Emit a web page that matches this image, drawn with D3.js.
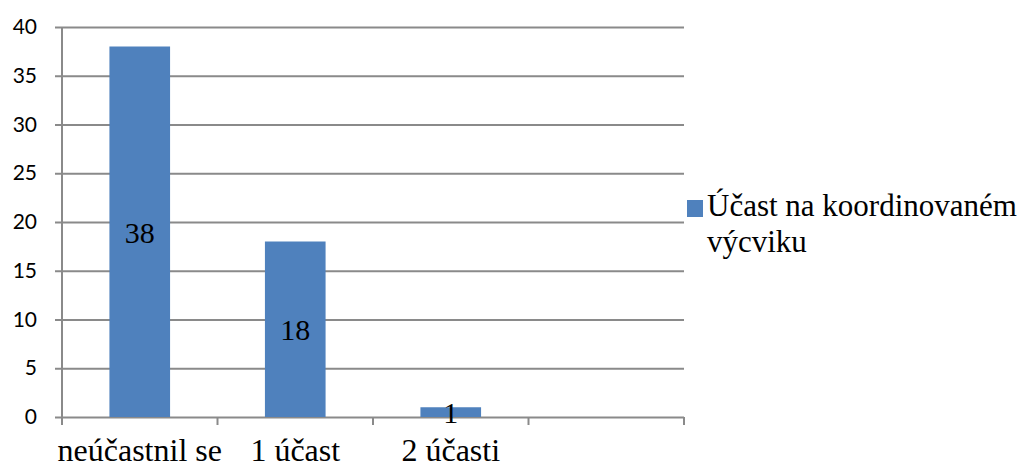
<!DOCTYPE html>
<html>
<head>
<meta charset="utf-8">
<script src="https://cdn.jsdelivr.net/npm/d3@7/dist/d3.min.js"></script>
<style>
  html, body { margin: 0; padding: 0; background: #fff; }
  svg { display: block; }
  .serif { font-family: "Liberation Serif", "Times New Roman", Times, "DejaVu Serif", serif; }
  .sans { font-family: Lato, "Open Sans", "Liberation Sans", sans-serif; }
</style>
</head>
<body>
<svg id="chart" width="1030" height="468"></svg>
<script>
// Category slots on the x axis (the last slot is left empty)
const categories = ["neúčastnil se", "1 účast", "2 účasti", ""];
// Number of respondents per category
const values = [38, 18, 1];
// Y axis tick values
const yTicks = [0, 5, 10, 15, 20, 25, 30, 35, 40];
const seriesName = ["Účast na koordinovaném", "výcviku"];

const svg = d3.select("#chart");
const plotLeft = 62, plotRight = 684, plotTop = 27, plotBottom = 417;
const barColor = "#4F81BD";
const gridColor = "#8a8a8a";

const x = d3.scaleBand()
  .domain(categories.map((c, i) => i))
  .range([plotLeft, plotRight])
  .paddingInner(0.61)
  .paddingOuter(0.305);

const y = d3.scaleLinear().domain([0, 40]).range([plotBottom, plotTop]);

// Horizontal gridlines with short ticks to the left of the axis
const yAxis = d3.axisLeft(y)
  .tickValues(yTicks)
  .tickSize(-(plotRight - plotLeft))
  .tickSizeOuter(0)
  .tickPadding(25)
  .tickFormat(d3.format("d"));

const gy = svg.append("g")
  .attr("transform", `translate(${plotLeft},0)`)
  .call(yAxis)
  .attr("font-family", null)
  .attr("font-size", null);
gy.select(".domain").remove();
gy.selectAll(".tick line")
  .attr("x1", -7)
  .attr("stroke", gridColor)
  .attr("stroke-width", 2);
gy.selectAll(".tick text")
  .attr("class", "sans")
  .style("font-size", "21px")
  .attr("fill", "#000");

// Vertical axis line
svg.append("line")
  .attr("x1", plotLeft).attr("x2", plotLeft)
  .attr("y1", y(40)).attr("y2", plotBottom + 8)
  .attr("stroke", gridColor).attr("stroke-width", 2);

// Category boundary ticks on the x axis
const step = x.step();
const boundaries = d3.range(categories.length + 1).map(i => plotLeft + i * step);
svg.append("g").selectAll("line")
  .data(boundaries)
  .join("line")
  .attr("x1", d => d).attr("x2", d => d)
  .attr("y1", plotBottom).attr("y2", plotBottom + 8)
  .attr("stroke", gridColor).attr("stroke-width", 2);

// Bars
svg.append("g").selectAll("rect")
  .data(values)
  .join("rect")
  .attr("x", (d, i) => x(i))
  .attr("width", x.bandwidth())
  .attr("y", d => y(d))
  .attr("height", d => plotBottom - y(d))
  .attr("fill", barColor);

// Value labels centred inside each bar
svg.append("g").selectAll("text")
  .data(values)
  .join("text")
  .attr("class", "serif")
  .attr("x", (d, i) => x(i) + x.bandwidth() / 2)
  .attr("y", d => (y(d) + plotBottom) / 2 + 11)
  .attr("text-anchor", "middle")
  .style("font-size", "30px")
  .attr("fill", "#000")
  .text(d => d);

// Category labels
svg.append("g").selectAll("text")
  .data(categories)
  .join("text")
  .attr("class", "serif")
  .attr("x", (d, i) => x(i) + x.bandwidth() / 2)
  .attr("y", 461)
  .attr("text-anchor", "middle")
  .style("font-size", "32px")
  .attr("fill", "#000")
  .text(d => d);

// Legend
const legend = svg.append("g");
legend.append("rect")
  .attr("x", 687).attr("y", 200)
  .attr("width", 16).attr("height", 17)
  .attr("fill", barColor);
legend.selectAll("text")
  .data(seriesName)
  .join("text")
  .attr("class", "serif")
  .attr("x", 707)
  .attr("y", (d, i) => 216 + i * 36)
  .style("font-size", "31px")
  .attr("fill", "#000")
  .text(d => d);
</script>
</body>
</html>
